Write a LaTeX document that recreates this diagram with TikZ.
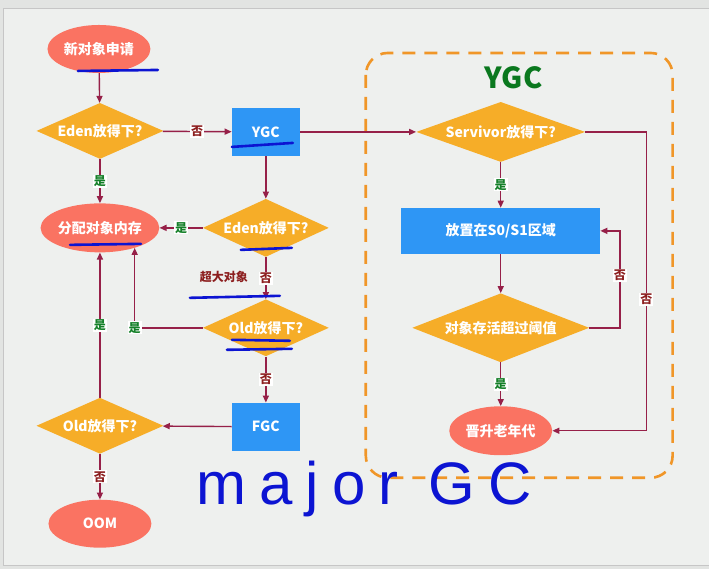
\documentclass[tikz,border=0pt]{standalone}
\usepackage{fontspec}
\setmainfont{Noto Sans CJK SC}
\newfontfamily\hand{Liberation Sans}[LetterSpace=22]
\usetikzlibrary{shapes.geometric,arrows.meta}
\definecolor{salmon}{RGB}{250,115,98}
\definecolor{dorange}{RGB}{246,173,40}
\definecolor{gblue}{RGB}{46,150,245}
\definecolor{wine}{RGB}{150,32,72}
\definecolor{ygreen}{RGB}{20,128,40}
\definecolor{nred}{RGB}{140,30,30}
\definecolor{frameorange}{RGB}{240,150,40}
\definecolor{titlegreen}{RGB}{10,120,30}
\definecolor{inkblue}{RGB}{12,20,210}
\definecolor{bgin}{RGB}{238,240,238}
\definecolor{bgout}{RGB}{226,228,226}
\begin{document}
\begin{tikzpicture}[x=1pt,y=-1pt,
  base/.style={text=white,font=\bfseries\fontsize{14}{17}\selectfont,inner sep=0pt},
  oval/.style={base,ellipse,fill=salmon,minimum width=103pt,minimum height=48pt},
  dia/.style={base,diamond,fill=dorange},
  gcbox/.style={base,rectangle,fill=gblue},
  conn/.style={draw=wine,line width=1.4pt,-{Triangle[length=7pt,width=6pt]}},
  yes/.style={fill=white,text=ygreen,font=\bfseries\fontsize{12}{14}\selectfont,inner sep=1pt},
  no/.style={yes,text=nred},
  ink/.style={draw=inkblue,line width=2.6pt,line cap=round},
  ygcframe/.style={draw=frameorange,line width=2.6pt,dash pattern=on 13pt off 9pt,rounded corners=22pt}]
% background
\fill[bgout] (0,0) rectangle (709,569);
\fill[bgin] (3,8) rectangle (709,566);
\draw[gray!45,line width=0.8pt] (3,566) -- (3,8) -- (709,8);
\draw[gray!45,line width=0.8pt] (3,566) -- (709,566);
% YGC frame
\draw[ygcframe] (366,53) rectangle (673,478);
\node[text=titlegreen,font=\bfseries\fontsize{29}{33}\selectfont] (ygctitle) at (514,78) {YGC};
% left column
\node[oval] (start) at (99,49) {新对象申请};
\node[dia,shape aspect=2.3,minimum width=127pt,minimum height=56pt] (eden1) at (100,131) {Eden放得下?};
\node[oval,minimum width=104pt,minimum height=49pt] (alloc) at (100,228) {分配对象内存};
\node[dia,shape aspect=2.3,minimum width=127pt,minimum height=56pt] (old2) at (100,426) {Old放得下?};
\node[oval] (oom) at (100,524) {OOM};
% middle column
\node[gcbox,minimum width=68pt,minimum height=48pt] (ygc) at (266,132) {YGC};
\node[dia,shape aspect=2.2,minimum width=126pt,minimum height=58pt] (eden2) at (266,228) {Eden放得下?};
\node[dia,shape aspect=2.2,minimum width=126pt,minimum height=57pt] (old1) at (266,328) {Old放得下?};
\node[gcbox,minimum width=68pt,minimum height=48pt] (fgc) at (266,427) {FGC};
\node[text=nred,font=\bfseries\fontsize{12}{14}\selectfont,inner sep=1pt] (huge) at (224,277) {超大对象};
% right column
\node[dia,shape aspect=2.8,minimum width=169pt,minimum height=60pt] (surv) at (501,132) {Servivor放得下?};
\node[gcbox,minimum width=199pt,minimum height=46pt] (s01) at (501,231) {放置在S0/S1区域};
\node[dia,shape aspect=2.56,minimum width=177pt,minimum height=69pt] (thr) at (501,328) {对象存活超过阈值};
\node[oval,minimum width=103pt,minimum height=49pt] (promo) at (501,431) {晋升老年代};
% connectors
\draw[conn] (start) -- (eden1);
\draw[conn] (eden1) -- node[yes]{是} (alloc);
\draw[conn] (eden1) -- node[no]{否} (ygc);
\draw[conn] (ygc) -- (surv);
\draw[conn] (ygc) -- (eden2);
\draw[conn] (eden2) -- node[yes]{是} (alloc);
\draw[conn] (eden2) -- node[no]{否} (old1);
\draw[conn] (old1.west) -| node[yes,pos=0.5]{是} (alloc.330);
\draw[conn] (old2) -- node[yes]{是} (alloc);
\draw[conn] (old1) -- node[no]{否} (fgc);
\draw[conn] (fgc) -- (old2);
\draw[conn] (old2) -- node[no]{否} (oom);
\draw[conn] (surv) -- node[yes]{是} (s01);
\draw[conn] (s01) -- (thr);
\draw[conn] (thr.east) -- ++(30.5,0) |- node[no,pos=0.27]{否} (s01.east);
\draw[conn] (thr) -- node[yes]{是} (promo);
\draw[conn] (surv.east) -- ++(61,0) |- node[no,pos=0.28]{否} (promo.east);
% hand-drawn annotations
\draw[ink] (78,71) -- (158,70);
\draw[ink] (70,245) -- (141,244);
\draw[ink] (232,147) -- (293,143);
\draw[ink] (241,250) -- (292,248);
\draw[ink] (190,298) -- (280,296);
\draw[ink] (232,340) -- (290,341);
\draw[ink] (227,350) -- (292,349);
\node[anchor=base west,text=inkblue,font=\hand\fontsize{60}{62}\selectfont,inner sep=0pt] (major) at (196,505) {major GC};
\end{tikzpicture}
\end{document}
